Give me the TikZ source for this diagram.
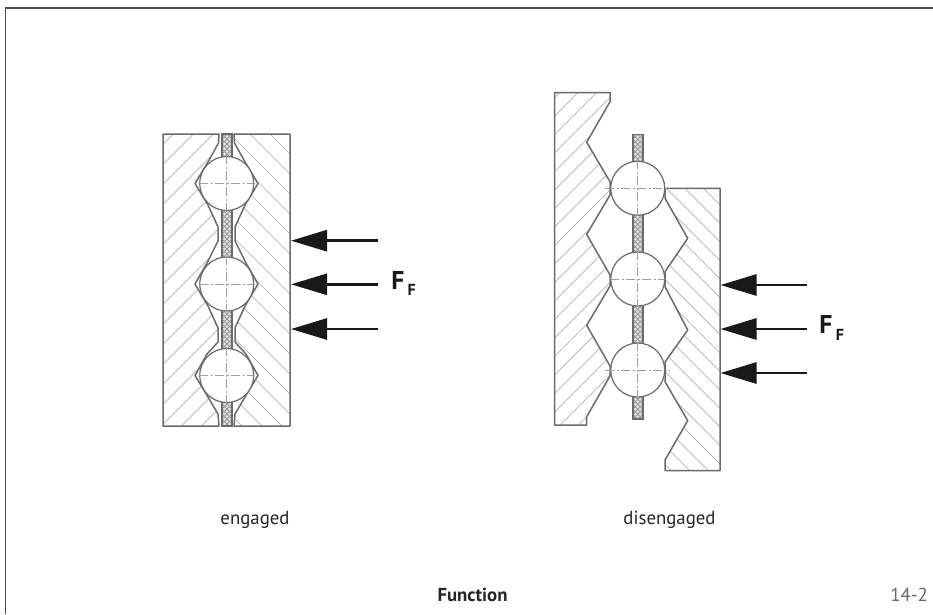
\documentclass[tikz,border=0pt]{standalone}
\usepackage{fontspec}
\setmainfont{PT Sans}
\usetikzlibrary{arrows.meta}
\definecolor{edge}{gray}{0.42}
\definecolor{hatch}{gray}{0.70}
\definecolor{cl}{gray}{0.62}
\tikzset{
 x=1pt,y=-1pt,
 outline/.style={draw=edge,line width=1.5pt,line join=round},
 hatchline/.style={draw=hatch,line width=0.7pt},
 ballshape/.style={circle,draw=edge,fill=white,line width=1.2pt,minimum size=54pt,inner sep=0pt,outer sep=0pt},
 centerline/.style={draw=cl,line width=1pt,dash pattern=on 9pt off 2.5pt on 2pt off 2.5pt},
 platebox/.style={draw=edge,line width=1.6pt},
 force/.style={draw=black!90,line width=2.8pt,-{Triangle[length=36pt,width=21pt,fill=black!90]}},
 caption/.style={inner sep=0pt,anchor=base,font=\fontsize{18.8pt}{21pt}\selectfont,text=black!85},
 forcelabel/.style={inner sep=0pt,font=\bfseries\fontsize{25.7pt}{27pt}\selectfont,text=black!90},
 forcesub/.style={inner sep=0pt,font=\bfseries\fontsize{16pt}{18pt}\selectfont,text=black!90},
}
\newcommand{\platehatch}[4]{% x0 y0 x1 y1
 \begin{scope}
 \clip (#1,#2) rectangle (#3,#4);
 \fill[gray!22] (#1,#2) rectangle (#3,#4);
 \foreach \k in {-4,...,64} {
  \pgfmathsetmacro{\yy}{#2+\k*5}
  \draw[gray!80,line width=0.9pt] (#1,\yy) -- ++(12,12);
  \draw[gray!80,line width=0.9pt] (#1,\yy) -- ++(12,-12);
 }
 \end{scope}
 \draw[platebox] (#1,#2) rectangle (#3,#4);
}
\begin{document}
\begin{tikzpicture}
\useasboundingbox (0,0) rectangle (933,614);
\fill[white] (0,0) rectangle (933,614);
\draw[black!70,line width=1.4pt] (5.5,614) -- (5.5,8) -- (933,8);

% ---------- engaged: left block
\def\LL{(163,134) -- (219,134) -- (218.5,143) -- (208,162) -- (195,183.5) -- (208,205) -- (218,227) -- (218,241) -- (207,263) -- (195,284) -- (208,306) -- (218,328) -- (218,342) -- (207,354) -- (195,375.5) -- (208,397) -- (218,414) -- (219,426) -- (163,426) -- cycle}
\def\LR{(290,134) -- (234,134) -- (234.5,143) -- (245,162) -- (258,183.5) -- (245,205) -- (235,227) -- (235,241) -- (246,263) -- (258,284) -- (245,306) -- (235,328) -- (235,342) -- (246,354) -- (258,375.5) -- (245,397) -- (235,414) -- (234,426) -- (290,426) -- cycle}
\begin{scope}\clip \LL; \foreach \c in {287.3,307.3,...,760}{\draw[hatchline] (\c,0)--(\c-700,700);}\end{scope}
\begin{scope}\clip \LR; \foreach \c in {-204,-184,...,200}{\draw[hatchline] (\c,0)--(\c+700,700);}\end{scope}
\draw[outline] \LL;
\draw[outline] \LR;
\platehatch{222}{134}{232}{426}
\node[ballshape] (e1) at (226.7,183.5) {};
\node[ballshape] (e2) at (226.7,284) {};
\node[ballshape] (e3) at (226.7,375.5) {};
\draw[centerline] (226.7,155) -- (226.7,212);
\draw[centerline] (226.7,256) -- (226.7,312);
\draw[centerline] (226.7,347) -- (226.7,404);
\draw[centerline] (199,183.5) -- (255,183.5);
\draw[centerline] (199,284) -- (255,284);
\draw[centerline] (199,375.5) -- (255,375.5);

% ---------- disengaged: blocks
\def\RL{(554.5,92.5) -- (610,92.5) -- (610,101.7) -- (586.7,142.3) -- (610,181.7) -- (610,195) -- (586.7,234.3) -- (610,275) -- (610,286) -- (586.7,325.3) -- (610,366) -- (610,376) -- (586.7,416.7) -- (586.7,425) -- (554.5,425) -- cycle}
\def\RR{(665,188.3) -- (720,188.3) -- (720,470.7) -- (665,470.7) -- (665,460) -- (687.7,420.7) -- (665,381.7) -- (665,362) -- (687.7,330) -- (665,286.7) -- (665,271.7) -- (687.7,238.3) -- (665,198.3) -- cycle}
\begin{scope}\clip \RL; \foreach \c in {633.6,652.1,...,1100}{\draw[hatchline] (\c,0)--(\c-700,700);}\end{scope}
\begin{scope}\clip \RR; \foreach \c in {182.2,200.7,...,550}{\draw[hatchline] (\c,0)--(\c+700,700);}\end{scope}
\draw[outline] \RL;
\draw[outline] \RR;
\platehatch{632.7}{134.3}{642.7}{419}
\node[ballshape] (d1) at (637.7,188.3) {};
\node[ballshape] (d2) at (637.7,279) {};
\node[ballshape] (d3) at (637.7,370) {};
\draw[centerline] (637.7,160) -- (637.7,216);
\draw[centerline] (637.7,251) -- (637.7,307);
\draw[centerline] (637.7,342) -- (637.7,398);
\draw[centerline] (605,188.3) -- (670,188.3);
\draw[centerline] (610,279) -- (665,279);
\draw[centerline] (605,370) -- (670,370);

% ---------- forces
\coordinate (a1) at (377.7,240.7); \coordinate (a1t) at (291,240.7);
\coordinate (a2) at (377.7,284.3); \coordinate (a2t) at (291,284.3);
\coordinate (a3) at (377.7,329);   \coordinate (a3t) at (291,329);
\draw[force] (a1) -- (a1t);
\draw[force] (a2) -- (a2t);
\draw[force] (a3) -- (a3t);
\coordinate (b1) at (807,285); \coordinate (b1t) at (720.5,285);
\coordinate (b2) at (807,329); \coordinate (b2t) at (720.5,329);
\coordinate (b3) at (807,373); \coordinate (b3t) at (720.5,373);
\draw[force] (b1) -- (b1t);
\draw[force] (b2) -- (b2t);
\draw[force] (b3) -- (b3t);
\node[forcelabel] (f1) at (397.8,280) {F};
\node[forcesub] (f1s) at (411.7,290) {F};
\node[forcelabel] (f2) at (826,324.5) {F};
\node[forcesub] (f2s) at (840,335) {F};

\node[caption] (t1) at (255,524) {engaged};
\node[caption] (t2) at (669.5,524) {disengaged};
\node[caption,font=\bfseries\fontsize{18.8pt}{21pt}\selectfont] (t3) at (472.5,601) {Function};
\node[caption,anchor=base east,text=black!60] (t4) at (928,601) {14-2};
\end{tikzpicture}
\end{document}
